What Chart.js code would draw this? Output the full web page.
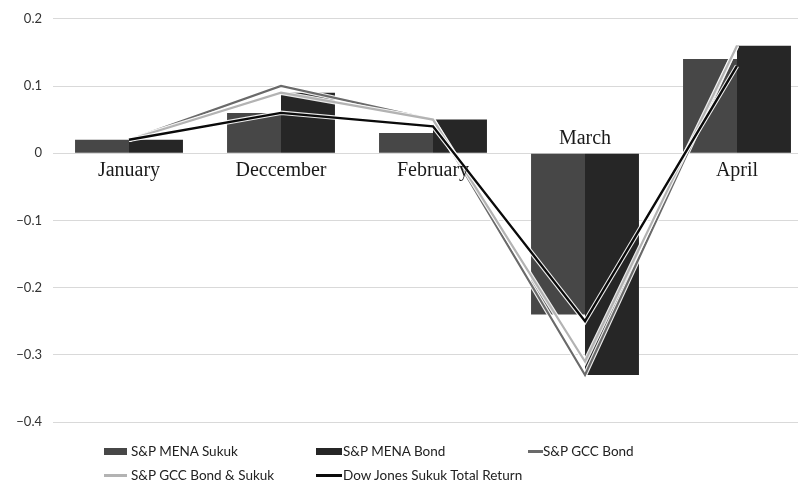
<!DOCTYPE html>
<html>
<head>
<meta charset="utf-8">
<script src="https://cdn.jsdelivr.net/npm/chart.js@4/dist/chart.umd.min.js"></script>
<style>
  html, body { margin: 0; padding: 0; background: #fff; overflow: hidden; width: 798px; height: 481px; }
  #wrap { position: absolute; left: 0; top: 0; width: 813px; height: 481px; }
  #legend { position: absolute; left: 0; top: 0; width: 798px; height: 481px; pointer-events: none;
            font-family: Lato, "Open Sans", sans-serif; font-size: 13.5px; color: #222; }
  .item { position: absolute; height: 18px; line-height: 18px; white-space: nowrap; }
  .mk { position: absolute; top: 50%; }
  .txt { position: absolute; top: 0; }
</style>
</head>
<body>
<div id="wrap"><canvas id="c"></canvas></div>
<div id="legend"></div>
<script>
const categories = ["January", "Deccember", "February", "March", "April"];
const menaSukuk   = [0.02, 0.06, 0.03, -0.24, 0.14];
const menaBond    = [0.02, 0.09, 0.05, -0.33, 0.16];
const gccBond     = [0.02, 0.10, 0.05, -0.33, 0.16];
const gccBondSuk  = [0.02, 0.09, 0.05, -0.31, 0.16];
const dowJones    = [0.02, 0.06, 0.04, -0.25, 0.13];
const yTicks      = [0.2, 0.1, 0, -0.1, -0.2, -0.3, -0.4];
const seriesNames = ["S&P MENA Sukuk", "S&P MENA Bond", "S&P GCC Bond", "S&P GCC Bond & Sukuk", "Dow Jones Sukuk Total Return"];

const catLabelPlugin = {
  id: 'catLabels',
  beforeDatasetDraw(chart, args) {
    // thin white halo under each line series (as in the reference)
    const meta = args.meta;
    if (meta.type !== 'line') return;
    const pts = meta.data;
    const ctx = chart.ctx;
    ctx.save();
    ctx.strokeStyle = 'rgba(255,255,255,0.9)';
    ctx.lineWidth = 4.5;
    ctx.lineJoin = 'miter';
    ctx.beginPath();
    pts.forEach((p, i) => { if (i === 0) ctx.moveTo(p.x, p.y); else ctx.lineTo(p.x, p.y); });
    ctx.stroke();
    ctx.restore();
  },
  afterDatasetsDraw(chart) {
    const ctx = chart.ctx;
    const xs = chart.scales.x, ys = chart.scales.y;
    const y0 = ys.getPixelForValue(0);
    ctx.save();
    ctx.font = '20px "Liberation Serif", "DejaVu Serif", serif';
    ctx.fillStyle = '#1a1a1a';
    ctx.textAlign = 'center';
    ctx.textBaseline = 'middle';
    categories.forEach((c, i) => {
      const x = xs.getPixelForValue(i);
      const neg = Math.min(menaSukuk[i], menaBond[i]) < 0;
      ctx.fillText(c, x, neg ? y0 - 14 : y0 + 18);
    });
    ctx.restore();
  }
};

const chart = new Chart(document.getElementById('c'), {
  type: 'bar',
  data: {
    labels: categories,
    datasets: [
      { type: 'bar', label: seriesNames[0], data: menaSukuk, backgroundColor: '#474747', order: 5,
        categoryPercentage: 0.71, barPercentage: 1.0 },
      { type: 'bar', label: seriesNames[1], data: menaBond, backgroundColor: '#262626', order: 5,
        categoryPercentage: 0.71, barPercentage: 1.0 },
      { type: 'line', label: seriesNames[2], data: gccBond, borderColor: '#6a6a6a', borderWidth: 2.2,
        pointRadius: 0, tension: 0, order: 3, borderJoinStyle: 'miter' },
      { type: 'line', label: seriesNames[3], data: gccBondSuk, borderColor: '#b3b3b3', borderWidth: 2.2,
        pointRadius: 0, tension: 0, order: 2, borderJoinStyle: 'miter' },
      { type: 'line', label: seriesNames[4], data: dowJones, borderColor: '#0a0a0a', borderWidth: 2.4,
        pointRadius: 0, tension: 0, order: 1, borderJoinStyle: 'miter' }
    ]
  },
  options: {
    responsive: true,
    maintainAspectRatio: false,
    animation: false,
    events: [],
    layout: { padding: { top: 17, bottom: 59, left: 0, right: 0 } },
    plugins: { legend: { display: false }, tooltip: { enabled: false } },
    scales: {
      x: { display: false, offset: true },
      y: {
        min: -0.4, max: 0.2,
        afterFit(s) { s.width = 53; },
        afterBuildTicks(s) { s.ticks = yTicks.map(v => ({ value: v })); },
        border: { display: false },
        grid: { color: '#d9d9d9', lineWidth: 1, drawTicks: false },
        ticks: {
          padding: 11,
          color: '#333',
          font: { family: 'Lato, "Open Sans", sans-serif', size: 13 },
          callback: v => (Math.round(v * 10) / 10).toString().replace('-', '\u2212')
        }
      }
    }
  },
  plugins: [catLabelPlugin]
});

// HTML legend built from the dataset definitions
// [marker left, marker width, text left, row centre y]
const legendPos = [[104, 23, 131, 451], [316, 26, 343, 451], [528, 15, 543, 451], [104, 23, 131, 475], [316, 26, 343, 475]];
const lg = document.getElementById('legend');
chart.data.datasets.forEach((ds, i) => {
  const [x, w, tx, y] = legendPos[i];
  const it = document.createElement('div');
  it.className = 'item';
  it.style.left = x + 'px';
  it.style.top = (y - 9) + 'px';
  const mk = document.createElement('div');
  mk.className = 'mk';
  const isBar = ds.type === 'bar';
  mk.style.left = '0px';
  mk.style.width = w + 'px';
  if (isBar) { mk.style.height = '7px'; mk.style.marginTop = '-3.5px'; mk.style.background = ds.backgroundColor; }
  else { mk.style.height = '2.5px'; mk.style.marginTop = '-1px'; mk.style.background = ds.borderColor; }
  const t = document.createElement('span');
  t.className = 'txt';
  t.style.left = (tx - x) + 'px';
  t.textContent = ds.label;
  it.appendChild(mk); it.appendChild(t);
  lg.appendChild(it);
});
</script>
</body>
</html>
